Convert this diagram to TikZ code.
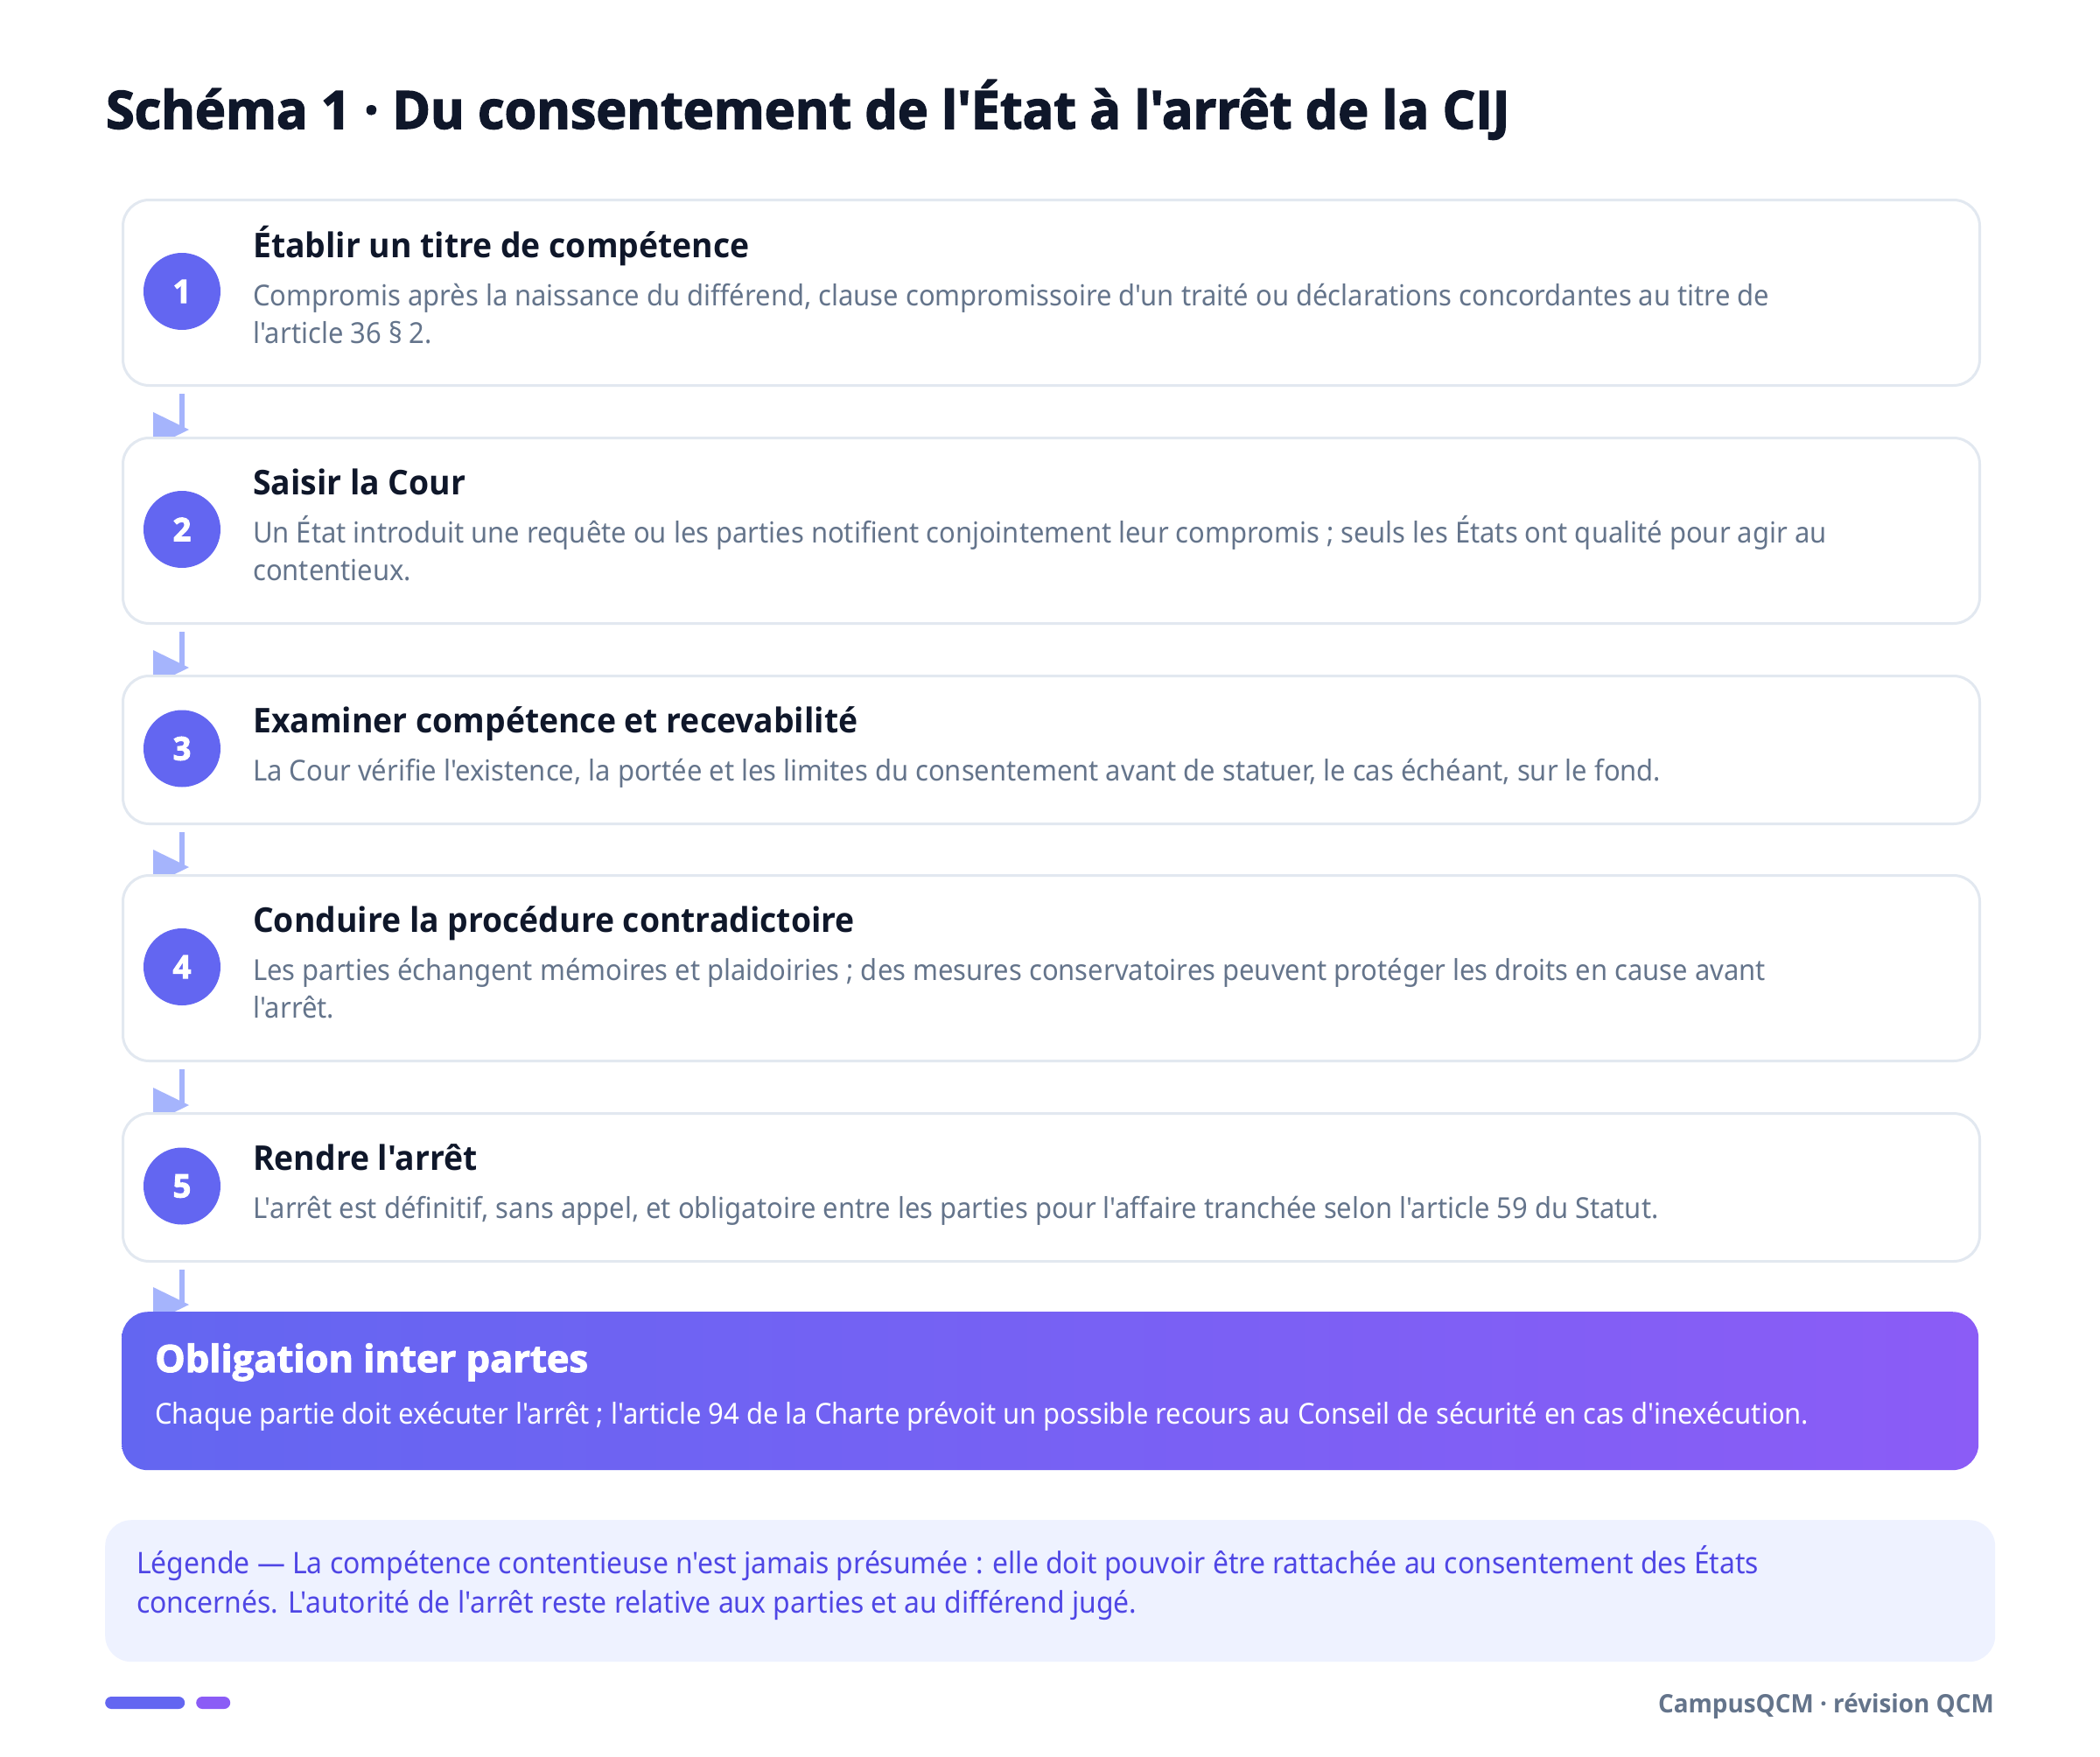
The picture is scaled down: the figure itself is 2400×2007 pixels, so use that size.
\documentclass[tikz,border=0pt]{standalone}
\usepackage{fontspec}
\usetikzlibrary{calc,backgrounds}
\newfontfamily\bodyfont{Noto Sans}[FakeStretch=0.938]
\newfontfamily\headfont{Open Sans}[FakeStretch=0.957]
\newfontfamily\heavyfont{Open Sans}[FakeStretch=0.985,BoldFeatures={FakeBold=2.5}]
\newfontfamily\obfont{Open Sans}[FakeStretch=1.01,BoldFeatures={FakeBold=2.5}]
\newfontfamily\semifont{Open Sans}[FakeStretch=0.96]
\definecolor{ink}{HTML}{0F172A}
\definecolor{slate}{HTML}{64748B}
\definecolor{cardborder}{HTML}{E2E8F0}
\definecolor{indigo}{HTML}{6366F1}
\definecolor{violet}{HTML}{8B5CF6}
\definecolor{arrowc}{HTML}{A5B4FC}
\definecolor{legendbg}{HTML}{EEF2FF}
\definecolor{legendtext}{HTML}{4F46E5}
\tikzset{
  card/.style={draw=cardborder, line width=3pt, fill=white, rounded corners=30pt,
    minimum width=2122pt, inner sep=0pt, anchor=north west},
  num/.style={circle, fill=indigo, minimum size=88pt, inner sep=0pt, text=white,
    font=\heavyfont\bfseries\fontsize{37}{37}\selectfont},
  head/.style={anchor=base west, inner sep=0pt, text=ink,
    font=\headfont\bfseries\fontsize{39}{47}\selectfont},
  body/.style={anchor=base west, inner sep=0pt, text=slate,
    font=\bodyfont\fontsize{33}{43}\selectfont},
  flow/.style={draw=arrowc, line width=6pt},
  tip/.style={fill=arrowc},
  titletext/.style={anchor=base west, inner sep=0pt, text=ink,
    font=\heavyfont\bfseries\fontsize{60}{70}\selectfont},
  obhead/.style={anchor=base west, inner sep=0pt, text=white,
    font=\obfont\bfseries\fontsize{43}{50}\selectfont},
  obbody/.style={anchor=base west, inner sep=0pt, text=white,
    font=\bodyfont\fontsize{33}{43}\selectfont},
  legbody/.style={anchor=base west, inner sep=0pt, text=legendtext,
    font=\bodyfont\fontsize{34}{45}\selectfont},
  bar/.style={rounded corners=7pt, minimum height=14pt, inner sep=0pt, anchor=west},
}
\begin{document}
\begin{tikzpicture}[x=1pt,y=-1pt]
\useasboundingbox (0,0) rectangle (2400,2007);

\node[titletext] (title) at (121,147) {Schéma 1 · Du consentement de l'État à l'arrêt de la CIJ};

% cards
\node[card, minimum height=212pt] (c1) at (139,227) {};
\node[card, minimum height=212pt] (c2) at (139,499) {};
\node[card, minimum height=169pt] (c3) at (139,771) {};
\node[card, minimum height=212pt] (c4) at (139,999) {};
\node[card, minimum height=169pt] (c5) at (139,1271) {};

\node[num] (n1) at (208,333) {1};
\node[num] (n2) at (208,605) {2};
\node[num] (n3) at (208,855.5) {3};
\node[num] (n4) at (208,1105) {4};
\node[num] (n5) at (208,1355.5) {5};

\node[head] (h1) at (289,294) {Établir un titre de compétence};
\node[body] (b1a) at (289,349) {Compromis après la naissance du différend, clause compromissoire d'un traité ou déclarations concordantes au titre de};
\node[body] (b1b) at (289,392) {l'article 36 § 2.};

\node[head] (h2) at (289,565) {Saisir la Cour};
\node[body] (b2a) at (289,620) {Un État introduit une requête ou les parties notifient conjointement leur compromis ; seuls les États ont qualité pour agir au};
\node[body] (b2b) at (289,663) {contentieux.};

\node[head] (h3) at (289,837) {Examiner compétence et recevabilité};
\node[body] (b3a) at (289,892) {La Cour vérifie l'existence, la portée et les limites du consentement avant de statuer, le cas échéant, sur le fond.};

\node[head] (h4) at (289,1065) {Conduire la procédure contradictoire};
\node[body] (b4a) at (289,1120) {Les parties échangent mémoires et plaidoiries ; des mesures conservatoires peuvent protéger les droits en cause avant};
\node[body] (b4b) at (289,1163) {l'arrêt.};

\node[head] (h5) at (289,1337) {Rendre l'arrêt};
\node[body] (b5a) at (289,1392) {L'arrêt est définitif, sans appel, et obligatoire entre les parties pour l'affaire tranchée selon l'article 59 du Statut.};

% obligation box
\node[anchor=north west, minimum width=2122pt, minimum height=181pt, inner sep=0pt,
  rounded corners=30pt, left color=indigo, right color=violet] (ob) at (139,1499) {};
\node[obhead] (obh) at (177,1568) {Obligation inter partes};
\node[obbody] (obb) at (177,1627) {Chaque partie doit exécuter l'arrêt ; l'article 94 de la Charte prévoit un possible recours au Conseil de sécurité en cas d'inexécution.};

% connectors
\begin{pgfonlayer}{background}
\fill[white] (0,0) rectangle (2400,2007);
\foreach \a/\b in {c1/c2,c2/c3,c3/c4,c4/c5,c5/ob}{
  \draw[flow] ($(n1|-\a.south)+(0,8)$) -- ($(n1|-\b.north)+(0,-8)$);
  \fill[tip] ($(n1|-\b.north)+(-33,-28)$) -- ++(41,20) -- ++(-41,20) -- cycle;
}
\end{pgfonlayer}

% legend
\node[anchor=north west, minimum width=2160pt, minimum height=162pt, inner sep=0pt,
  rounded corners=30pt, fill=legendbg] (leg) at (120,1737) {};
\node[legbody] (l1) at (156,1798) {Légende — La compétence contentieuse n'est jamais présumée : elle doit pouvoir être rattachée au consentement des États};
\node[legbody] (l2) at (156,1843) {concernés. L'autorité de l'arrêt reste relative aux parties et au différend jugé.};

% footer
\node[bar, fill=indigo, minimum width=91pt] (bar1) at (120,1946) {};
\node[bar, fill=violet, minimum width=39pt] (bar2) at (224,1946) {};
\node[anchor=base east, inner sep=0pt, text=slate, font=\semifont\bfseries\fontsize{29}{36}\selectfont] (foot) at (2279,1957) {CampusQCM · révision QCM};
\end{tikzpicture}
\end{document}
